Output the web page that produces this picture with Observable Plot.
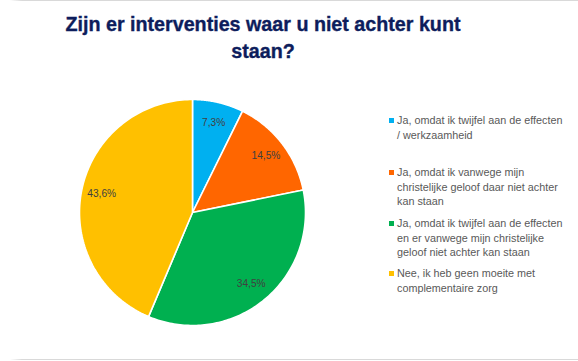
<!DOCTYPE html>
<html>
<head>
<meta charset="utf-8">
<script src="https://cdn.jsdelivr.net/npm/d3@7"></script>
<script src="https://cdn.jsdelivr.net/npm/@observablehq/plot@0.6"></script>
<style>
  html, body { margin: 0; padding: 0; background: #fff; }
  #wrap { position: relative; width: 578px; height: 361px; overflow: hidden; background: #fff; }
  #chart { position: absolute; left: 0; top: 0; }
  .hline { position: absolute; left: 10px; right: 0; height: 1px;
           background: linear-gradient(to right, rgba(217,217,217,0) 0px, #d9d9d9 12px, #d9d9d9 100%); }
  #title { position: absolute; left: 13px; width: 500px; top: 11px; text-align: center;
           font-family: "Liberation Sans", Arial, sans-serif; font-weight: bold; font-size: 19.7px;
           line-height: 27px; color: #0d1d5c; -webkit-text-stroke: 0.35px #0d1d5c; }
  #legend { position: absolute; left: 397px; top: 0; font-family: "Liberation Sans", Arial, sans-serif;
            font-size: 10.8px; color: #595959; }
  .item { position: absolute; left: 0; white-space: pre; line-height: 14.6px; }
  .sw { position: absolute; left: -8px; top: 5px; width: 5px; height: 5px; }
</style>
</head>
<body>
<div id="wrap">
  <div class="hline" style="top:0px"></div>
  <div class="hline" style="top:359px"></div>
  <div id="chart"></div>
  <div id="title">Zijn er interventies waar u niet achter kunt<br>staan?</div>
  <div id="legend"></div>
</div>
<script>
// ---- data ----
const categories = [
  "Ja, omdat ik twijfel aan de effecten\n/ werkzaamheid",
  "Ja, omdat ik vanwege mijn\nchristelijke geloof daar niet achter\nkan staan",
  "Ja, omdat ik twijfel aan de effecten\nen er vanwege mijn christelijke\ngeloof niet achter kan staan",
  "Nee, ik heb geen moeite met\ncomplementaire zorg"
];
const values = [7.3, 14.5, 34.5, 43.6];
const colors = ["#00B0F0", "#FF6600", "#00B050", "#FFC000"];

// ---- geometry from data ----
const rows = categories.map((c, i) => ({cat: c, value: values[i]}));
const arcs = d3.pie().value(d => d.value).sort(null)(rows);

const pts = [];
for (const a of arcs) {
  pts.push({cat: a.data.cat, x: 0, y: 0});
  const n = 120;
  for (let k = 0; k <= n; k++) {
    const t = a.startAngle + (a.endAngle - a.startAngle) * k / n;
    pts.push({cat: a.data.cat, x: Math.sin(t), y: Math.cos(t)});
  }
}
const labels = arcs.map(a => {
  const m = (a.startAngle + a.endAngle) / 2;
  return {x: 0.82 * Math.sin(m), y: 0.82 * Math.cos(m),
          text: a.data.value.toFixed(1).replace(".", ",") + "%"};
});

const cx = 192, cy = 212, r = 113;
const plot = Plot.plot({
  width: 578, height: 361,
  margin: 0,
  x: {domain: [-1, 1], range: [cx - r, cx + r], axis: null},
  y: {domain: [-1, 1], range: [cy + r, cy - r], axis: null},
  color: {domain: categories, range: colors},
  style: {background: "transparent"},
  marks: [
    Plot.line(pts, {x: "x", y: "y", z: "cat", fill: "cat", stroke: "white", strokeWidth: 1.6,
                    strokeLinejoin: "round", curve: "linear-closed"}),
    Plot.text(labels, {x: "x", y: "y", text: "text", fill: "#404040", fontSize: 10.2,
                       fontFamily: "Liberation Sans, Arial, sans-serif"})
  ]
});
document.getElementById("chart").appendChild(plot);

// ---- legend ----
const tops = [113, 165, 216, 266];
const leg = document.getElementById("legend");
categories.forEach((c, i) => {
  const d = document.createElement("div");
  d.className = "item";
  d.style.top = tops[i] + "px";
  d.textContent = c;
  const s = document.createElement("div");
  s.className = "sw";
  s.style.background = colors[i];
  d.appendChild(s);
  leg.appendChild(d);
});
</script>
</body>
</html>
